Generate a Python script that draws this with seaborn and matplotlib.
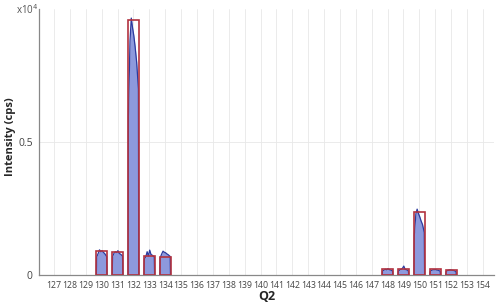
import matplotlib
matplotlib.use("Agg")
import matplotlib.pyplot as plt
import seaborn as sns
import pandas as pd
import numpy as np

# Q2 mass channels (x axis)
masses = list(range(127, 155))
# integrated bar heights (x10^4 cps)
bar_mass = [130, 131, 132, 133, 134, 148, 149, 150, 151, 152]
bar_height = [0.090, 0.086, 0.959, 0.071, 0.068, 0.024, 0.024, 0.237, 0.022, 0.020]
# profile sample offsets (relative to mass) and profile heights (x10^4 cps)
prof_offset = [-0.34, -0.32, -0.22, -0.14, -0.06, 0.02, 0.10, 0.20, 0.31, 0.33]
prof_130 = [0, 0.068, 0.082, 0.095, 0.088, 0.092, 0.086, 0.080, 0.070, 0]
prof_131 = [0, 0.070, 0.083, 0.088, 0.085, 0.092, 0.082, 0.078, 0.072, 0]
prof_132 = [0, 0.600, 0.880, 0.966, 0.930, 0.900, 0.860, 0.800, 0.700, 0]
prof_133 = [0, 0.060, 0.070, 0.088, 0.072, 0.094, 0.078, 0.074, 0.068, 0]
prof_134 = [0, 0.065, 0.080, 0.090, 0.086, 0.084, 0.080, 0.076, 0.070, 0]
prof_148 = [0, 0.015, 0.019, 0.022, 0.020, 0.024, 0.021, 0.019, 0.016, 0]
prof_149 = [0, 0.015, 0.020, 0.022, 0.026, 0.034, 0.022, 0.020, 0.016, 0]
prof_150 = [0, 0.150, 0.230, 0.248, 0.232, 0.220, 0.205, 0.190, 0.160, 0]
prof_151 = [0, 0.014, 0.018, 0.020, 0.020, 0.021, 0.019, 0.018, 0.015, 0]
prof_152 = [0, 0.013, 0.017, 0.019, 0.020, 0.019, 0.018, 0.017, 0.013, 0]
profiles = [prof_130, prof_131, prof_132, prof_133, prof_134,
            prof_148, prof_149, prof_150, prof_151, prof_152]
y_ticks = [0, 0.5]
y_tick_labels = ["0", "0.5"]

sns.set_theme(style="white")
plt.rcParams["font.family"] = ["Open Sans", "DejaVu Sans"]

fig = plt.figure(figsize=(5.0, 3.02), dpi=100)
ax = fig.add_axes([0.078, 0.089, 0.91, 0.881])

# profiles
rows = []
for m, prof in zip(bar_mass, profiles):
    xs = [m + o for o in prof_offset]
    ax.fill_between(xs, prof, 0, color="#8d99dd", linewidth=0, zorder=2)
    for x, y in zip(xs, prof):
        rows.append({"x": x, "y": y, "peak": m})
pdf = pd.DataFrame(rows)
sns.lineplot(data=pdf, x="x", y="y", units="peak", estimator=None, sort=False,
             color="#2b3a9e", linewidth=0.9, ax=ax, zorder=3, legend=False)

# bars (outlines)
bdf = pd.DataFrame({"mass": bar_mass, "height": bar_height})
sns.barplot(data=bdf, x="mass", y="height", native_scale=True, width=0.7,
            fill=False, edgecolor="#b2323f", linewidth=1.2, ax=ax, zorder=4,
            errorbar=None)

ax.set_xlim(126.05, 154.7)
ax.set_ylim(0, 1.0)
ax.set_xticks(masses)
ax.set_xticklabels([str(m) for m in masses], fontsize=6.3, color="#444444")
ax.set_yticks(y_ticks)
ax.set_yticklabels(y_tick_labels, fontsize=7.5, color="#444444")
ax.tick_params(axis="x", length=2.5, width=0.6, color="#888888", pad=1.5)
ax.tick_params(axis="y", length=2.5, width=0.6, color="#888888", pad=2)
ax.grid(True, color="#e8e8e8", linewidth=0.6, zorder=0)
ax.set_axisbelow(True)
for s in ["top", "right"]:
    ax.spines[s].set_visible(False)
for s in ["left", "bottom"]:
    ax.spines[s].set_color("#888888")
    ax.spines[s].set_linewidth(0.9)

ax.set_xlabel("Q2", fontsize=9, fontweight="bold", labelpad=0)
ax.set_ylabel("Intensity (cps)", fontsize=8, fontweight="bold")
ax.yaxis.set_label_coords(-0.050, 0.52)
fig.text(0.032, 0.965, "x10$^{4}$", fontsize=7, color="#555555", va="center")

fig.savefig("out.png", dpi=100)
